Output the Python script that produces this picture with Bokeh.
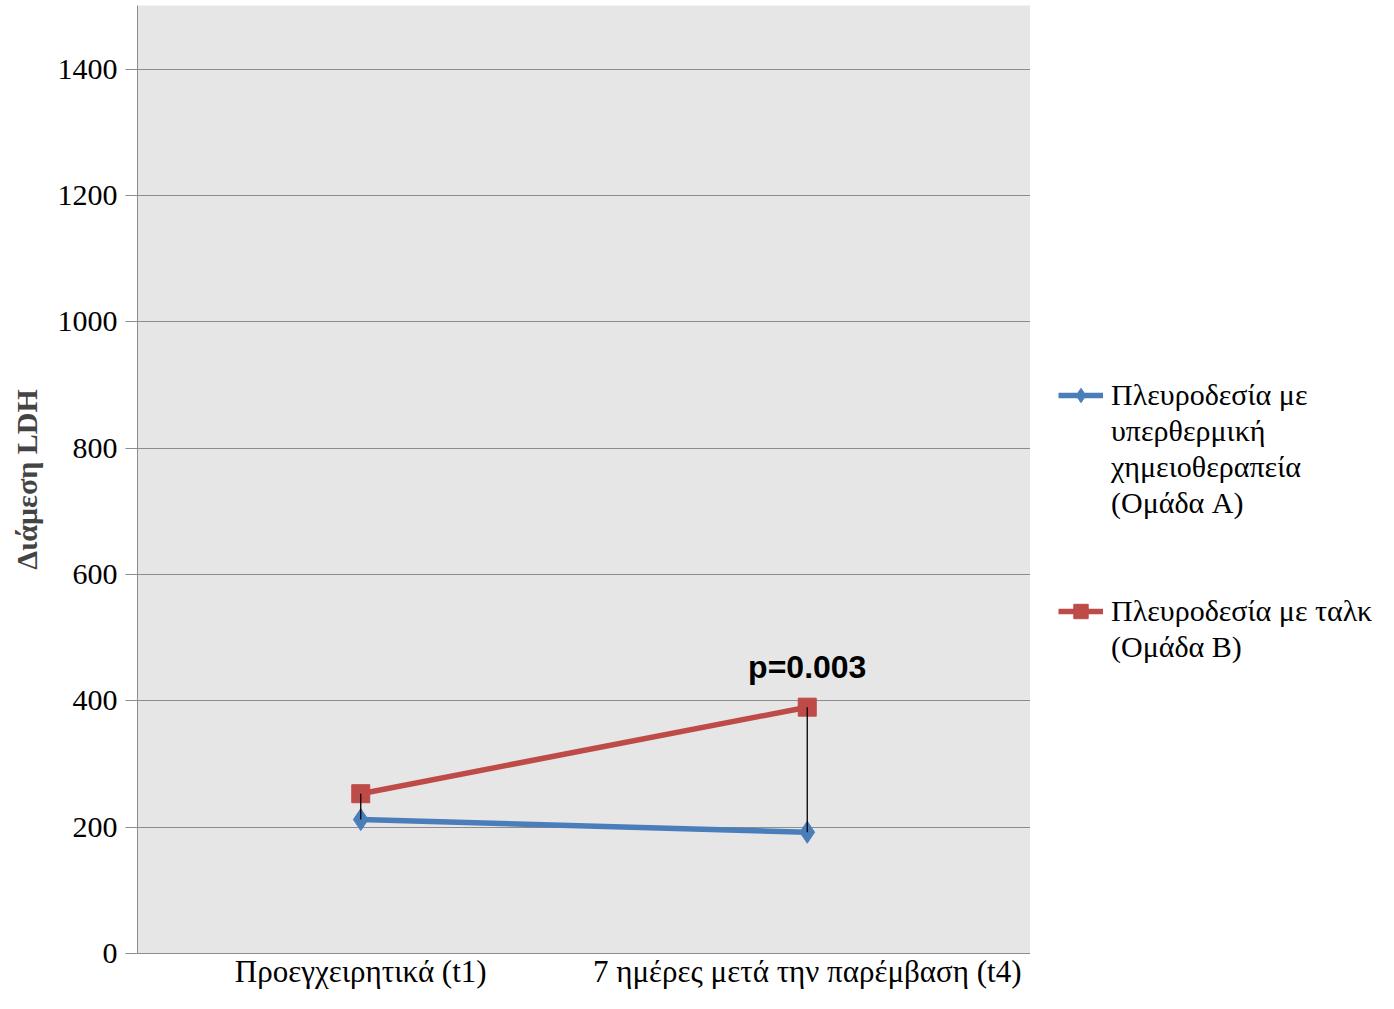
from bokeh.plotting import figure
from bokeh.layouts import row
from bokeh.models import Legend, LegendItem, Range1d, FactorRange, FixedTicker
from bokeh.core.properties import value
from bokeh.embed import file_html
from bokeh.resources import INLINE

categories = ["Προεγχειρητικά (t1)", "7 ημέρες μετά την παρέμβαση (t4)"]
group_a = [212, 192]
group_b = [253, 390]
label_a_lines = ["Πλευροδεσία με", "υπερθερμική", "χημειοθεραπεία", "(Ομάδα A)"]
label_b_lines = ["Πλευροδεσία με ταλκ", "(Ομάδα B)"]
p_text = "p=0.003"
y_ticks = [0, 200, 400, 600, 800, 1000, 1200, 1400]
y_title = "Διάμεση LDH"

BLUE = "#4a7ebb"
RED = "#be4b48"
SERIF = "Liberation Serif"
NAN = float("nan")

p = figure(width=1030, height=993, x_range=FactorRange(*categories, range_padding=0),
           y_range=Range1d(0, 1501), output_backend="svg", toolbar_location=None,
           min_border_left=137, min_border_right=0, min_border_top=5, min_border_bottom=40)
p.background_fill_color = "#e6e6e6"
p.outline_line_color = None
p.xgrid.grid_line_color = None
p.ygrid.grid_line_color = "#8c8c8c"
p.ygrid.grid_line_width = 1
p.yaxis.ticker = FixedTicker(ticks=y_ticks)
p.yaxis.minor_tick_line_color = None
p.yaxis.major_tick_in = 0
p.yaxis.major_tick_out = 12
p.yaxis.major_tick_line_color = "#8c8c8c"
p.yaxis.axis_line_color = "#8c8c8c"
p.yaxis.major_label_standoff = 8
p.yaxis.major_label_text_font = SERIF
p.yaxis.major_label_text_font_size = "30px"
p.yaxis.major_label_text_color = "black"
p.yaxis.axis_label = y_title
p.yaxis.axis_label_text_font = SERIF
p.yaxis.axis_label_text_font_style = "bold"
p.yaxis.axis_label_text_font_size = "30px"
p.yaxis.axis_label_standoff = 12
p.xaxis.major_tick_line_color = None
p.xaxis.minor_tick_line_color = None
p.xaxis.major_tick_out = 0
p.xaxis.axis_line_color = "#8c8c8c"
p.xaxis.major_label_standoff = 0
p.xaxis.major_label_text_font = SERIF
p.xaxis.major_label_text_font_size = "31px"
p.xaxis.major_label_text_color = "black"

p.line(categories, group_a, line_color=BLUE, line_width=5.5)
p.scatter(categories, group_a, marker="diamond", size=22, fill_color=BLUE, line_color=BLUE)
p.line(categories, group_b, line_color=RED, line_width=5.5)
p.scatter(categories, group_b, marker="square", size=18, fill_color=RED, line_color=RED)
p.segment(x0=categories, y0=group_a, x1=categories, y1=group_b, line_color="black", line_width=1.3)

p.text(x=[categories[1]], y=[group_b[1]], text=[p_text], y_offset=-22,
       text_baseline="bottom", text_align="center", text_font=value("Liberation Sans"),
       text_font_style="bold", text_font_size="32px", text_color="black")

# legend panel (style samples only; the sample renderers hold no data)
q = figure(width=348, height=993, x_range=Range1d(0, 1), y_range=Range1d(0, 1),
           output_backend="svg", toolbar_location=None,
           min_border_left=0, min_border_right=0, min_border_top=0, min_border_bottom=0)
q.axis.visible = False
q.grid.visible = False
q.outline_line_color = None
la = q.line(x=[NAN], y=[NAN], line_color=BLUE, line_width=5.5)
sa = q.scatter(x=[NAN], y=[NAN], marker="diamond", size=18, fill_color=BLUE, line_color=BLUE)
lb = q.line(x=[NAN], y=[NAN], line_color=RED, line_width=5.5)
sb = q.scatter(x=[NAN], y=[NAN], marker="square", size=18, fill_color=RED, line_color=RED)

items = [LegendItem(label=label_a_lines[0], renderers=[la, sa])]
items += [LegendItem(label=t, renderers=[]) for t in label_a_lines[1:]]
items += [LegendItem(label=" ", renderers=[]), LegendItem(label=" ", renderers=[])]
items += [LegendItem(label=label_b_lines[0], renderers=[lb, sb])]
items += [LegendItem(label=t, renderers=[]) for t in label_b_lines[1:]]

legend = Legend(items=items, location=(28, 288), background_fill_alpha=0, border_line_color=None,
                label_text_font=SERIF, label_text_font_size="30px", label_text_color="black",
                glyph_width=45, glyph_height=36, label_height=36, spacing=0,
                padding=0, margin=0, label_standoff=8)
q.add_layout(legend, "center")

open("out.html", "w").write(file_html(row(p, q), INLINE))
